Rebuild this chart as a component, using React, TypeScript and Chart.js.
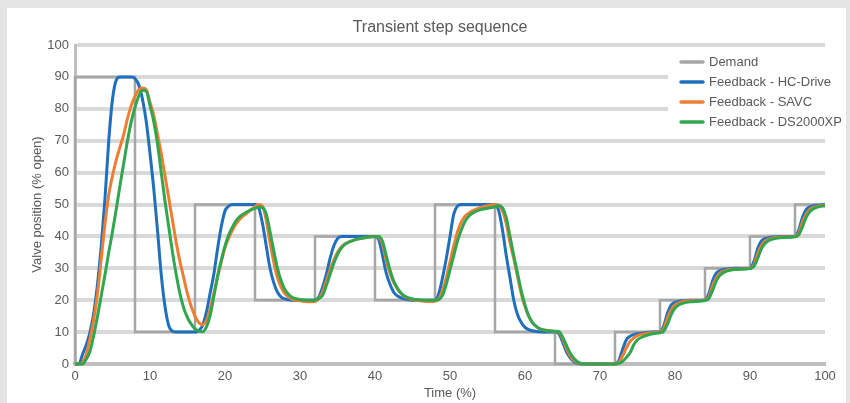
import React, { useEffect, useRef } from "react";
import { Chart, registerables } from "chart.js";

Chart.register(...registerables);

const TITLE = "Transient step sequence";
const X_TITLE = "Time (%)";
const Y_TITLE = "Valve position (% open)";
const SERIES_NAMES = ["Demand", "Feedback - HC-Drive", "Feedback - SAVC", "Feedback - DS2000XP"];
const SERIES_COLORS = ["#a6a6a6", "#1f6fbf", "#ef7e32", "#30a64e"];

const X_TICKS = [0, 10, 20, 30, 40, 50, 60, 70, 80, 90, 100];
const Y_TICKS = [0, 10, 20, 30, 40, 50, 60, 70, 80, 90, 100];

// Demand step sequence (value starts at the given time)
const demandTime = [0, 0, 8, 16, 24, 32, 40, 48, 56, 64, 72, 78, 84, 90, 96, 100];
const demandValue = [0, 90, 10, 50, 20, 40, 20, 50, 10, 0, 10, 20, 30, 40, 50, 50];

// Shared sampling times for the feedback traces
const feedbackTime = [
  0, 0.5, 1, 1.5, 2, 2.5, 3, 3.5, 4, 4.5, 5, 5.5, 6, 6.5, 7, 7.5, 8, 8.5, 9, 9.5,
  10, 10.5, 11, 11.5, 12, 12.5, 13, 13.5, 14, 14.5, 15, 15.5, 16, 16.5, 17, 17.5, 18, 18.5, 19, 19.5,
  20, 20.5, 21, 21.5, 22, 23, 24, 24.5, 25, 25.5, 26, 26.5, 27, 27.5, 28, 28.5, 29, 30, 31, 32,
  32.5, 33, 33.5, 34, 34.5, 35, 35.5, 36, 37, 38, 39, 40, 40.5, 41, 41.5, 42, 42.5, 43, 43.5, 44,
  45, 46, 47, 48, 48.5, 49, 49.5, 50, 50.5, 51, 51.5, 52, 52.5, 53, 54, 55, 56, 56.5, 57, 57.5,
  58, 58.5, 59, 59.5, 60, 60.5, 61, 61.5, 62, 63, 64, 64.5, 65, 65.5, 66, 66.5, 67, 67.5, 68, 70,
  72, 72.5, 73, 73.5, 74, 74.5, 75, 76, 77, 78, 78.5, 79, 79.5, 80, 80.5, 81, 82, 84, 84.5, 85,
  85.5, 86, 86.5, 87, 88, 90, 90.5, 91, 91.5, 92, 92.5, 93, 94, 96, 96.5, 97, 97.5, 98, 98.5, 99, 100,
];

const hcDrive = [
  0, 0, 3, 6, 10, 16, 25, 37, 52, 70, 83, 89, 90, 90, 90, 90, 89.5, 87.5, 83, 76,
  66, 55, 42, 28, 18, 12, 10.3, 10, 10, 10, 10, 10, 10, 10.5, 12, 16, 22, 28, 36, 43,
  48, 49.5, 50, 50, 50, 50, 50, 49, 44, 37, 30, 25.5, 22.5, 21, 20.4, 20.1, 20, 20, 20, 20,
  21, 24, 28, 33, 37, 39.3, 40, 40, 40, 40, 40, 40, 39, 34, 28.5, 25, 22.5, 21.3, 20.7, 20.4,
  20, 20, 20, 20, 22, 27, 33, 40, 47, 49.5, 50, 50, 50, 50, 50, 50, 50, 48, 42, 34,
  27, 20, 15.5, 13, 11.5, 10.8, 10.4, 10.2, 10.1, 10, 10, 9.5, 7, 4, 2, 0.8, 0.2, 0, 0, 0,
  0, 1, 4.5, 7.5, 8.7, 9.2, 9.5, 9.8, 10, 10, 12, 16, 18.5, 19.3, 19.6, 19.8, 20, 20, 22, 26,
  28.5, 29.3, 29.6, 29.8, 30, 30, 32, 36, 38.5, 39.3, 39.6, 39.8, 40, 40, 42, 46, 48.5, 49.3, 49.6, 49.8, 50,
];

const savc = [
  0, 0, 0.5, 3, 8, 14, 22, 33, 44, 53, 59, 64, 68, 72, 77, 81, 84, 86, 86.5, 86,
  82, 78, 72, 66, 59, 52, 45, 38, 32, 27, 22, 18, 15, 13, 12.3, 13.5, 17, 22, 27, 32,
  36.5, 39.5, 42, 44, 45.5, 47.5, 49.3, 50, 49.5, 45, 38, 32, 27, 24, 22, 21, 20.3, 19.8, 19.5, 19.6,
  20.5, 22.5, 26, 29.5, 32.5, 35, 36.7, 37.7, 38.7, 39.3, 39.7, 40, 39.7, 37.5, 32.5, 28.5, 25.5, 23.5, 22, 21,
  20.2, 19.8, 19.6, 19.7, 20.5, 23, 27, 32, 37, 41.5, 44.5, 46.3, 47.3, 48, 49, 49.6, 50, 49.7, 48, 44,
  38, 33, 27.5, 22, 18, 15, 13, 11.8, 11, 10.4, 10.2, 10, 8, 5, 2.7, 1.2, 0.4, 0.1, 0, 0,
  0, 0.5, 2.5, 5, 7, 8.2, 8.9, 9.5, 9.8, 10, 11, 14.5, 17, 18.5, 19.1, 19.5, 19.8, 20, 21, 24.5,
  27, 28.5, 29.1, 29.5, 29.8, 30, 31, 34.5, 37, 38.5, 39.1, 39.5, 39.8, 40, 41, 44.5, 47, 48.5, 49.1, 49.5, 49.8,
];

const ds2000xp = [
  0, 0, 0, 1.5, 4, 9, 15, 21.5, 28, 35, 41.5, 48.5, 56, 63, 70, 76, 80.5, 84, 85.8, 85.5,
  81, 76, 69, 60, 51, 43, 35, 28, 22, 17.5, 14.5, 12.5, 11, 10.3, 10.1, 11.5, 15, 21, 27.5, 32.5,
  37, 40.5, 43, 45, 46.3, 47.8, 48.8, 49.2, 49, 47, 41.5, 35.5, 30, 26, 23.3, 21.8, 20.8, 20.2, 20, 20,
  20.5, 21.5, 24.5, 28, 31.5, 34.3, 36.3, 37.5, 38.7, 39.3, 39.7, 40, 40, 38.5, 34, 29.5, 26, 23.7, 22.2, 21.2,
  20.4, 20.1, 20, 20, 20.2, 21.5, 25, 29.5, 34, 38.5, 42, 44.7, 46.3, 47.3, 48.3, 48.8, 49.3, 49.7, 49, 46,
  40, 34, 28.5, 23, 18.5, 15, 13, 11.8, 11, 10.5, 10.3, 10.2, 8.5, 6, 3.5, 1.8, 0.7, 0.2, 0, 0,
  0, 0.2, 0.8, 2, 3.5, 6, 7.6, 8.8, 9.5, 9.8, 10.3, 12.5, 15.5, 17.5, 18.5, 19, 19.5, 19.9, 20.5, 23,
  26, 27.8, 28.7, 29.2, 29.6, 29.9, 30.5, 33, 36, 37.8, 38.7, 39.2, 39.6, 39.9, 40.5, 43, 46, 47.8, 48.7, 49.2, 49.6,
];

const FONT = "'Liberation Sans', Arial, sans-serif";
const TEXT_COLOR = "#595959";

const titlePlugin = {
  id: "customTitle",
  afterDraw(chart: any) {
    const ctx = chart.ctx;
    ctx.save();
    ctx.font = `16px ${FONT}`;
    ctx.fillStyle = TEXT_COLOR;
    ctx.textAlign = "center";
    ctx.textBaseline = "middle";
    ctx.fillText(TITLE, chart.chartArea.left + 365, chart.chartArea.top - 17);
    ctx.restore();
  },
};

const legendPlugin = {
  id: "insideLegend",
  afterDraw(chart: any) {
    const { ctx, chartArea } = chart;
    const x0 = chartArea.right - 157;
    ctx.save();
    ctx.fillStyle = "#ffffff";
    ctx.fillRect(x0, chartArea.top + 5, 175, 82);
    ctx.font = `13px ${FONT}`;
    ctx.textBaseline = "middle";
    ctx.textAlign = "left";
    SERIES_NAMES.forEach((name, i) => {
      const y = chartArea.top + 17 + i * 20;
      ctx.strokeStyle = SERIES_COLORS[i];
      ctx.lineWidth = 3.5;
      ctx.lineCap = "round";
      ctx.beginPath();
      ctx.moveTo(chartArea.right - 144, y);
      ctx.lineTo(chartArea.right - 122, y);
      ctx.stroke();
      ctx.fillStyle = TEXT_COLOR;
      ctx.fillText(name, chartArea.right - 116, y);
    });
    ctx.restore();
  },
};

export default function App() {
  const ref = useRef<HTMLCanvasElement>(null);

  useEffect(() => {
    const toPoints = (t: number[], v: number[]) => t.map((x, i) => ({ x, y: v[i] }));
    const feedback = [hcDrive, savc, ds2000xp];
    const chart = new Chart(ref.current as HTMLCanvasElement, {
      type: "line",
      data: {
        datasets: [
          {
            label: SERIES_NAMES[0],
            data: toPoints(demandTime, demandValue),
            borderColor: SERIES_COLORS[0],
            borderWidth: 2.5,
            stepped: "before",
            pointRadius: 0,
            order: 3,
            clip: 5,
          },
          ...feedback.map((vals, i) => ({
            label: SERIES_NAMES[i + 1],
            data: toPoints(feedbackTime, vals),
            borderColor: SERIES_COLORS[i + 1],
            borderWidth: 3,
            pointRadius: 0,
            cubicInterpolationMode: "monotone" as const,
            order: 2 - i,
            clip: 5,
          })),
        ],
      },
      options: {
        responsive: false,
        animation: false,
        layout: { padding: { top: 37, left: 20, right: 21, bottom: 0 } },
        plugins: {
          legend: { display: false },
          title: { display: false },
          tooltip: { enabled: false },
        },
        scales: {
          x: {
            type: "linear",
            min: 0,
            max: 100,
            afterBuildTicks: (s: any) => {
              s.ticks = X_TICKS.map((value) => ({ value }));
            },
            afterFit: (s: any) => {
              s.height = 39;
            },
            grid: { display: false, drawTicks: false, tickLength: 0 },
            border: { display: true, color: "#bfbfbf", width: 4 },
            ticks: { color: TEXT_COLOR, font: { family: FONT, size: 13 }, padding: 5, maxRotation: 0 },
            title: {
              display: true,
              text: X_TITLE,
              color: TEXT_COLOR,
              font: { family: FONT, size: 13 },
              padding: { top: 0, bottom: 2 },
            },
          },
          y: {
            min: 0,
            max: 100,
            afterBuildTicks: (s: any) => {
              s.ticks = Y_TICKS.map((value) => ({ value }));
            },
            afterFit: (s: any) => {
              s.width = 48;
            },
            grid: {
              color: (c: any) => (c.tick && c.tick.value === 0 ? "#bfbfbf" : "#d9d9d9"),
              lineWidth: 4,
              drawTicks: false,
            },
            border: { display: true, color: "#bfbfbf", width: 3 },
            ticks: { color: TEXT_COLOR, font: { family: FONT, size: 13 }, padding: 6 },
            title: {
              display: true,
              text: Y_TITLE,
              color: TEXT_COLOR,
              font: { family: FONT, size: 13 },
              padding: { top: 3, bottom: 0 },
            },
          },
        },
      },
      plugins: [titlePlugin, legendPlugin],
    } as any);
    return () => chart.destroy();
  }, []);

  return (
    <div
      style={{
        position: "fixed",
        left: 0,
        top: 0,
        width: 850,
        height: 403,
        background: "#e4e4e4",
        overflow: "hidden",
      }}
    >
      <div style={{ position: "absolute", left: 7, top: 8, width: 839, height: 395, background: "#ffffff" }}>
        <canvas ref={ref} width={839} height={395} style={{ display: "block", width: 839, height: 395 }} />
      </div>
    </div>
  );
}
